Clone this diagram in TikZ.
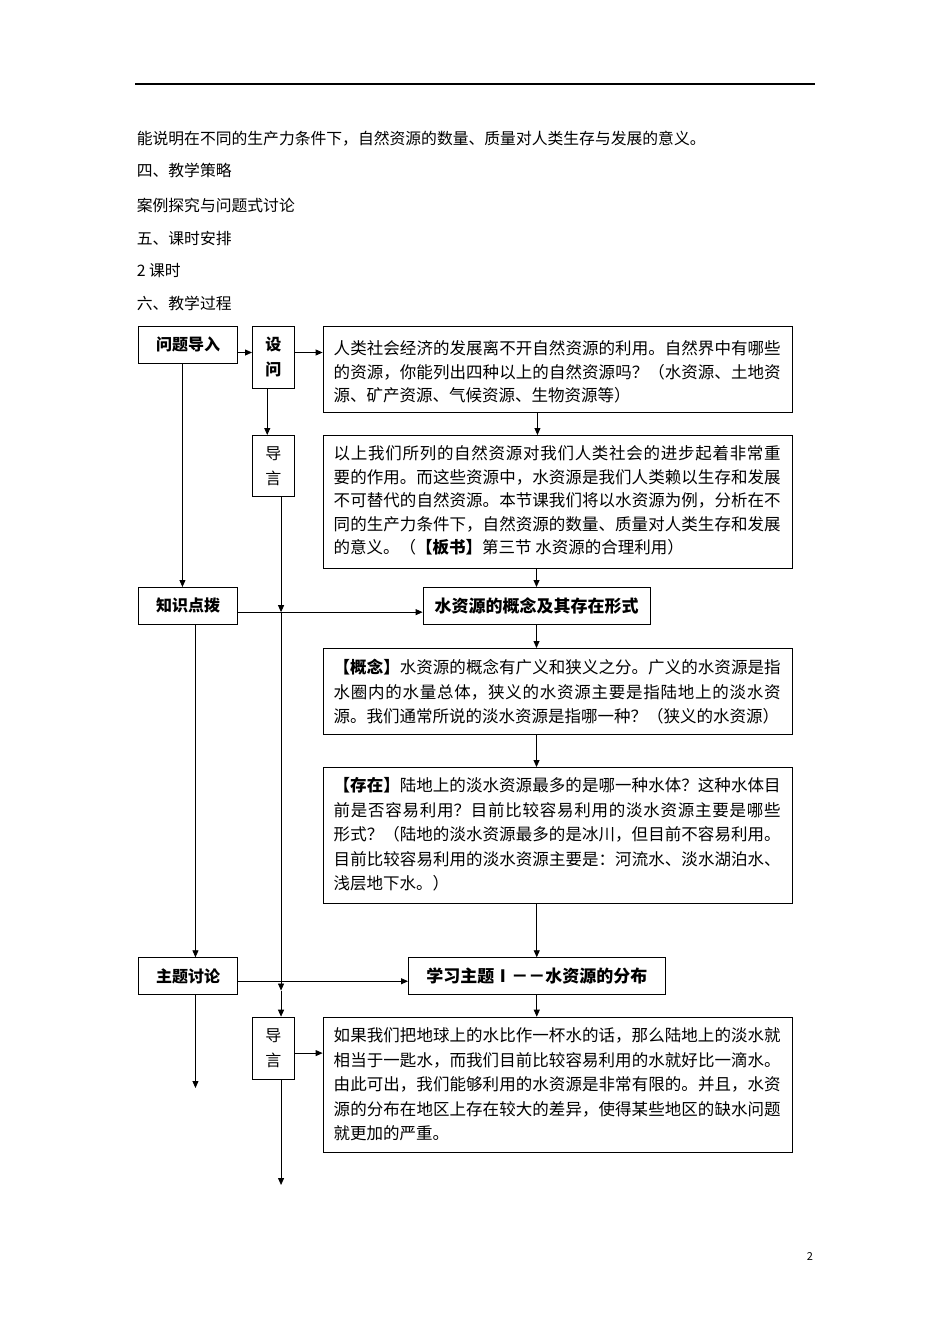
\documentclass[tikz,border=0pt]{standalone}
\usepackage{fontspec}
\setmainfont{Noto Sans CJK SC}
\usetikzlibrary{arrows.meta}
\XeTeXlinebreaklocale "zh"
\XeTeXlinebreakskip=0pt plus 1.2pt
\setlength{\parindent}{0pt}
\newcommand\fstrut{\rule{0pt}{14pt}}
\tikzset{
  box/.style={draw, line width=0.9pt, rectangle, inner sep=0pt, anchor=north west},
  lbl/.style={font=\fontsize{16}{25}\selectfont\bfseries, align=center},
  para/.style={anchor=north west, inner sep=0pt, text width=447pt, align=justify},
  paraA/.style={para, font=\fontsize{16.5}{23.5}\selectfont},
  paraB/.style={para, font=\fontsize{16.5}{24.5}\selectfont},
  plain/.style={anchor=base west, inner sep=0pt, font=\fontsize{15.8}{20}\selectfont},
  arr/.style={-{Triangle[length=7pt,width=6pt]}, line width=0.8pt},
  ln/.style={line width=0.8pt}
}
\begin{document}
\begin{tikzpicture}[x=1pt,y=-1pt]
\fill[white] (0,0) rectangle (950,1344);
\useasboundingbox (0,0) rectangle (950,1344);

% header rule
\draw[line width=1.2pt] (135,84) -- (815,84);

% introductory text
\node[plain] (p1) at (136.6,144.3) {能说明在不同的生产力条件下，自然资源的数量、质量对人类生存与发展的意义。};
\node[plain] (p2) at (136.6,176) {四、教学策略};
\node[plain] (p3) at (136.6,211) {案例探究与问题式讨论};
\node[plain] (p4) at (136.6,244) {五、课时安排};
\node[plain] (p5) at (136.6,276) {2 课时};
\node[plain] (p6) at (136.6,309) {六、教学过程};

% left column boxes
\node[box, minimum width=99.6pt, minimum height=36.7pt, lbl] (q1) at (137.8,326) {问题导入};
\node[box, minimum width=99.6pt, minimum height=37pt, lbl] (zs) at (137.8,587) {知识点拨};
\node[box, minimum width=99.6pt, minimum height=37pt, lbl] (zt) at (137.8,957.3) {主题讨论};

% narrow boxes
\node[box, minimum width=41.6pt, minimum height=62pt, lbl] (sw) at (252,326) {设\\问};
\node[box, minimum width=41.6pt, minimum height=60.7pt, lbl, font=\fontsize{16}{25}\selectfont] (dy1) at (252,435) {导\\言};
\node[box, minimum width=41.6pt, minimum height=62.3pt, lbl, font=\fontsize{16}{25}\selectfont] (dy2) at (252,1016.7) {导\\言};

% wide text boxes
\node[box, minimum width=469.4pt, minimum height=85.7pt] (b1) at (322.6,326) {};
\node[paraA] (b1t) at (333.5,340.6) {\fstrut 人类社会经济的发展离不开自然资源的利用。自然界中有哪些\linebreak 的资源，你能列出四种以上的自然资源吗？（水资源、土地资\linebreak 源、矿产资源、气候资源、生物资源等）};

\node[box, minimum width=469.4pt, minimum height=133pt] (b2) at (322.6,435) {};
\node[paraA] (b2t) at (333.5,445.3) {\fstrut 以上我们所列的自然资源对我们人类社会的进步起着非常重\linebreak 要的作用。而这些资源中，水资源是我们人类赖以生存和发展\linebreak 不可替代的自然资源。本节课我们将以水资源为例，分析在不\linebreak 同的生产力条件下，自然资源的数量、质量对人类生存和发展\linebreak 的意义。（{\bfseries 【板书】}第三节 水资源的合理利用）};

\node[box, minimum width=226.9pt, minimum height=37pt, font=\fontsize{17}{20}\selectfont\bfseries] (gn) at (422.6,587) {水资源的概念及其存在形式};

\node[box, minimum width=469.4pt, minimum height=86pt] (gb) at (322.6,648) {};
\node[paraB] (gbt) at (333.5,659) {\fstrut{\bfseries 【概念】}水资源的概念有广义和狭义之分。广义的水资源是指\linebreak 水圈内的水量总体，狭义的水资源主要是指陆地上的淡水资\linebreak 源。我们通常所说的淡水资源是指哪一种？（狭义的水资源）};

\node[box, minimum width=469.4pt, minimum height=136pt] (cz) at (322.6,767) {};
\node[paraB] (czt) at (333.5,777.3) {\fstrut{\bfseries 【存在】}陆地上的淡水资源最多的是哪一种水体？这种水体目\linebreak 前是否容易利用？目前比较容易利用的淡水资源主要是哪些\linebreak 形式？（陆地的淡水资源最多的是冰川，但目前不容易利用。\linebreak 目前比较容易利用的淡水资源主要是：河流水、淡水湖泊水、\linebreak 浅层地下水。）};

\node[box, minimum width=256.6pt, minimum height=37pt, font=\fontsize{17}{20}\selectfont\bfseries] (xx) at (408,957.3) {学习主题Ⅰ－－水资源的分布};

\node[box, minimum width=469.4pt, minimum height=135.3pt] (rg) at (322.6,1016.7) {};
\node[paraB] (rgt) at (333.5,1027.3) {\fstrut 如果我们把地球上的水比作一杯水的话，那么陆地上的淡水就\linebreak 相当于一匙水，而我们目前比较容易利用的水就好比一滴水。\linebreak 由此可出，我们能够利用的水资源是非常有限的。并且，水资\linebreak 源的分布在地区上存在较大的差异，使得某些地区的缺水问题\linebreak 就更加的严重。};

% page number
\node[font=\fontsize{11}{13}\selectfont, inner sep=0pt] (pg) at (810,1256) {2};

% helper coordinates
\coordinate (a1) at ([yshift=-7.7pt]q1.east);
\coordinate (a2) at (a1 -| sw.east);
\coordinate (a3) at ([xshift=-6pt]sw.south);
\coordinate (a4) at ([xshift=-5.6pt]q1.south);
\coordinate (a5) at ([xshift=7.8pt]dy1.south);
\coordinate (h1) at ([yshift=-6.2pt]zs.east);
\coordinate (a6) at ([xshift=7.4pt]zs.south);
\coordinate (h2) at ([yshift=-5pt]zt.east);
\coordinate (m2) at ([yshift=-9.3pt]h2);
\coordinate (a7) at ([xshift=7.4pt]zt.south);
\coordinate (a8) at ([yshift=-4.8pt]dy2.east);
\coordinate (a9) at ([xshift=7.8pt]dy2.south);
\coordinate (e1) at (195,1088);
\coordinate (e2) at (280.6,1185);
\coordinate (c1) at ([xshift=-20.3pt]b1.south);

% connectors
\draw[arr] (a1) -- (a1 -| sw.west);
\draw[arr] (a2) -- (a2 -| b1.west);
\draw[arr] (a3) -- (a3 |- dy1.north);
\draw[arr] (c1) -- (c1 |- b2.north);
\draw[arr] (gn.north |- b2.south) -- (gn.north);
\draw[arr] (gn.south) -- (gn.south |- gb.north);
\draw[arr] (gn.south |- gb.south) -- (gn.south |- cz.north);
\draw[arr] (xx.north |- cz.south) -- (xx.north);
\draw[arr] (xx.south) -- (xx.south |- rg.north);

\draw[arr] (a4) -- (a4 |- zs.north);
\draw[arr] (h1) -- (h1 -| gn.west);
\draw[arr] (a5) -- (a5 |- h1);
\draw[arr] (a5 |- h1) -- (a5 |- m2);
\draw[arr] (a5 |- m2) -- (a5 |- dy2.north);
\draw[arr] (a6) -- (a6 |- zt.north);
\draw[arr] (h2) -- (h2 -| xx.west);
\draw[arr] (a7) -- (a7 |- e1);
\draw[arr] (a8) -- (a8 -| rg.west);
\draw[arr] (a9) -- (a9 |- e2);
\end{tikzpicture}
\end{document}
